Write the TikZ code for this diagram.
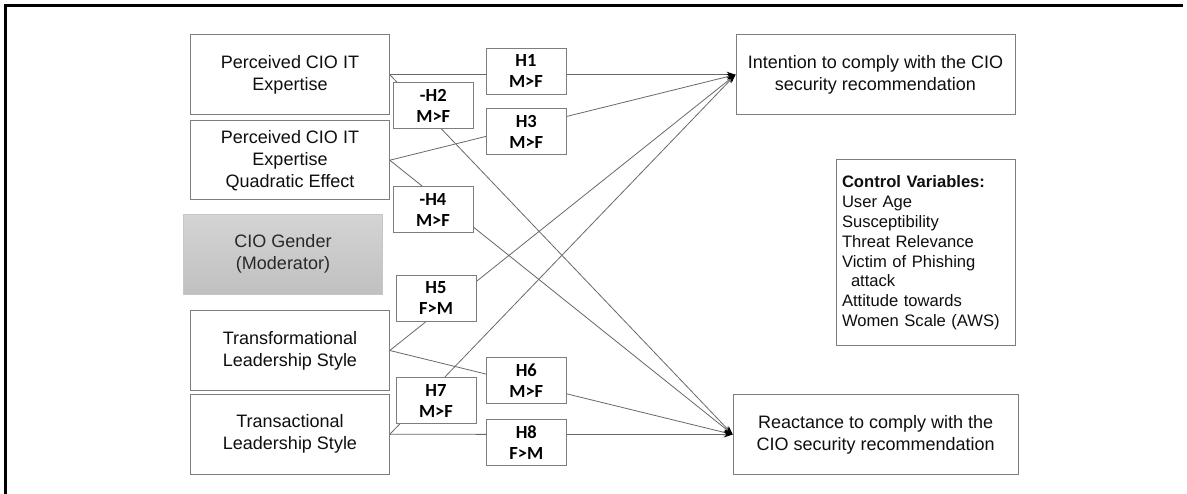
\documentclass[tikz,border=0pt]{standalone}
\usepackage{fontspec}
\setmainfont{Liberation Sans}
\newfontfamily\hfont{Carlito}
\usetikzlibrary{arrows.meta}
\definecolor{boxline}{RGB}{125,125,125}
\definecolor{connline}{RGB}{105,105,105}
\definecolor{txt}{RGB}{15,15,15}
\definecolor{gtop}{RGB}{212,212,212}
\definecolor{gbot}{RGB}{192,192,192}
\begin{document}
\begin{tikzpicture}[x=1pt,y=-1pt,
  mainbox/.style={draw=boxline, line width=1pt, fill=white, minimum width=198.6pt, minimum height=79.6pt, inner sep=0pt, align=center, text=txt, font=\fontsize{18}{22}\selectfont},
  outbox/.style={mainbox, minimum width=279pt},
  modbox/.style={draw=gbot!90!white, line width=0.6pt, top color=gtop, bottom color=gbot, minimum width=199.4pt, minimum height=79.7pt, inner sep=0pt, align=center, text={rgb,255:red,40;green,40;blue,40}, font=\fontsize{18}{22}\selectfont},
  ctrlbox/.style={draw=boxline, line width=1pt, fill=white, text width=167pt, inner xsep=6pt, inner ysep=0pt, minimum height=186pt, align=left, text=txt, font=\fontsize{16.6}{19.8}\selectfont},
  hbox/.style={draw=boxline, line width=1pt, fill=white, minimum width=80pt, minimum height=46pt, inner sep=0pt, align=center, text=black, font=\hfont\bfseries\fontsize{18.5}{21}\selectfont},
  conn/.style={draw=connline, line width=0.8pt, -{Stealth[length=9pt,width=6pt,color=black]}}
]
\useasboundingbox (0,0) rectangle (1187,494);
\fill[white] (0,0) rectangle (1187,494);
% frame
\draw[line width=3pt] (5.5,494) -- (5.5,5.5) -- (1183,5.5);

% source boxes
\node[mainbox] (A) at (290,74.7) {Perceived CIO IT\\Expertise};
\node[mainbox] (B) at (290,160.2) {Perceived CIO IT\\Expertise\\Quadratic Effect};
\node[modbox] (G) at (283,254.2) {CIO Gender\\(Moderator)};
\node[mainbox] (TF) at (290,350.5) {Transformational\\Leadership Style};
\node[mainbox] (TA) at (290,434.3) {Transactional\\Leadership Style};

% outcome boxes
\node[outbox] (I) at (875.5,74.7) {Intention to comply with the CIO\\security recommendation};
\node[outbox, minimum width=285pt] (R) at (875.7,434.5) {Reactance to comply with the\\CIO security recommendation};
\node[ctrlbox] (C) at (925.5,253) {\textbf{Control Variables:}\\User Age\\Susceptibility\\Threat Relevance\\Victim of Phishing\\\hspace*{9pt}attack\\Attitude towards\\Women Scale (AWS)};

% connectors
\draw[conn] (A.east) -- (I.west);
\draw[conn] (A.east) -- (R.west);
\draw[conn] (B.east) -- (I.west);
\draw[conn] (B.east) -- (R.west);
\draw[conn] (TF.east) -- (I.west);
\draw[conn] (TF.east) -- (R.west);
\draw[conn] (TA.east) -- (I.west);
\draw[conn] (TA.east) -- (R.west);

% hypothesis labels
\node[hbox] (H1) at (526,71.2) {H1\\M>F};
\node[hbox] (H2) at (433.3,105.7) {-H2\\M>F};
\node[hbox] (H3) at (526.3,132) {H3\\M>F};
\node[hbox] (H4) at (433,210) {-H4\\M>F};
\node[hbox] (H5) at (436,298.3) {H5\\F>M};
\node[hbox] (H6) at (526.3,380.3) {H6\\M>F};
\node[hbox] (H7) at (436,400.7) {H7\\M>F};
\node[hbox] (H8) at (526.3,442.2) {H8\\F>M};
\end{tikzpicture}
\end{document}
